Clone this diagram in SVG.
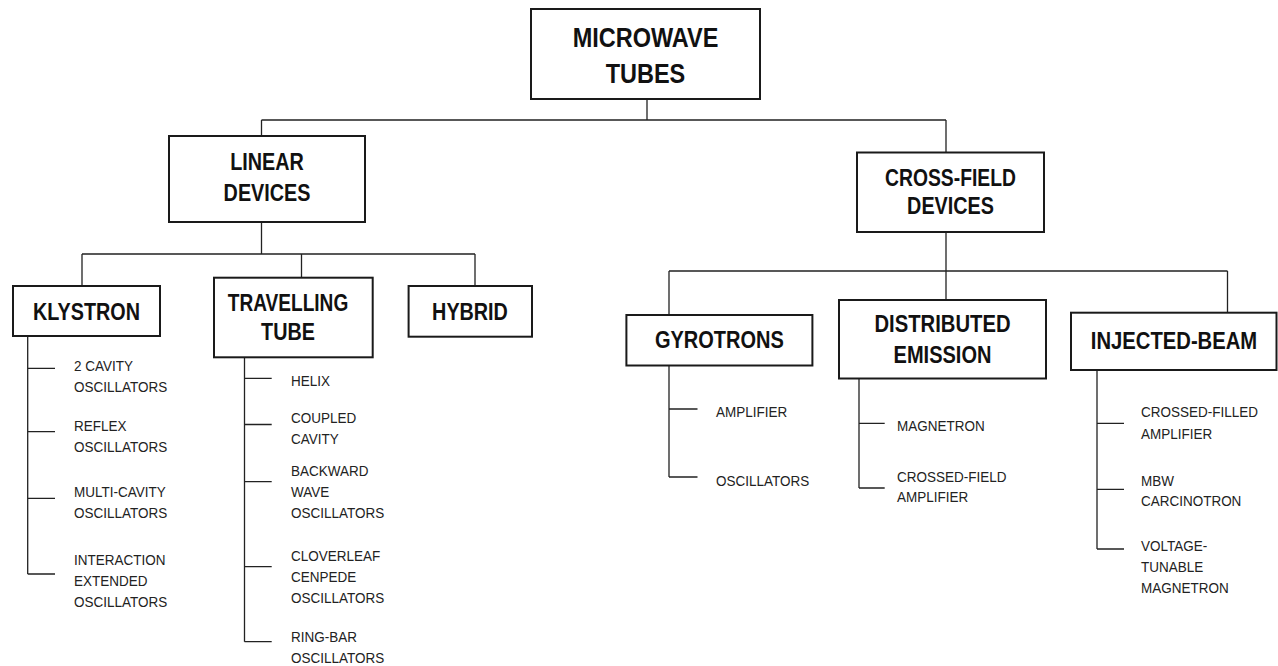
<svg xmlns="http://www.w3.org/2000/svg" width="1278" height="666" viewBox="0 0 1278 666">
<style>
.box{fill:#fff;stroke:#1a1a1a;stroke-width:2}
.ln{fill:none;stroke:#222;stroke-width:1.3}
.h{font-family:"Liberation Sans",Arial,sans-serif;font-weight:bold;font-size:23px;fill:#111;text-anchor:middle}
.h1{font-size:27px}
.s{font-family:"Liberation Sans",Arial,sans-serif;font-size:15px;fill:#222}
</style>
<rect width="1278" height="666" fill="#fff"/>
<g id="connectors">
<path class="ln" d="M647 99V120M261.5 120H946M261.5 120V136M946 120V152.5"/>
<path class="ln" d="M261.5 222V254M82 254H475M82 254V286M301.5 254V277.7M475 254V286"/>
<path class="ln" d="M946 232V300M669 271H1227.5M669 271V315M1227.5 271V312.7"/>
<path class="ln" d="M27.7 336V574M27.7 368.3H55M27.7 431.7H55M27.7 498.3H55M27.7 574H55"/>
<path class="ln" d="M244.5 357.3V641.7M244.5 378.3H271.7M244.5 424.5H271.7M244.5 481.7H271.7M244.5 566.7H271.7M244.5 641.7H271.7"/>
<path class="ln" d="M669 365.5V477M669 409H697.5M669 477H697.5"/>
<path class="ln" d="M859 378.5V488M859 423.3H884.7M859 488H884.7"/>
<path class="ln" d="M1097 370V549M1097 423.3H1124M1097 489.3H1124M1097 549H1124"/>
</g>
<g id="microwave-tubes">
<rect class="box" x="531" y="9" width="229" height="90"/>
<text class="h h1" transform="translate(645.5 47) scale(0.87 1)">MICROWAVE</text>
<text class="h h1" transform="translate(645.5 83) scale(0.87 1)">TUBES</text>
</g>
<g id="linear-devices">
<rect class="box" x="169" y="136" width="196" height="86"/>
<text class="h" transform="translate(267 170) scale(0.86 1)">LINEAR</text>
<text class="h" transform="translate(267 201) scale(0.86 1)">DEVICES</text>
</g>
<g id="cross-field-devices">
<rect class="box" x="857" y="152.5" width="187" height="79.5"/>
<text class="h" transform="translate(950.5 186) scale(0.84 1)">CROSS-FIELD</text>
<text class="h" transform="translate(950.5 214) scale(0.86 1)">DEVICES</text>
</g>
<g id="klystron">
<rect class="box" x="13" y="286" width="147" height="50"/>
<text class="h" transform="translate(86.5 320) scale(0.86 1)">KLYSTRON</text>
<text class="s" transform="translate(74 371) scale(0.9 1)">2 CAVITY</text>
<text class="s" transform="translate(74 392) scale(0.9 1)">OSCILLATORS</text>
<text class="s" transform="translate(74 431) scale(0.9 1)">REFLEX</text>
<text class="s" transform="translate(74 451.5) scale(0.9 1)">OSCILLATORS</text>
<text class="s" transform="translate(74 497) scale(0.9 1)">MULTI-CAVITY</text>
<text class="s" transform="translate(74 518) scale(0.9 1)">OSCILLATORS</text>
<text class="s" transform="translate(74 564.5) scale(0.9 1)">INTERACTION</text>
<text class="s" transform="translate(74 585.5) scale(0.9 1)">EXTENDED</text>
<text class="s" transform="translate(74 607) scale(0.9 1)">OSCILLATORS</text>
</g>
<g id="travelling-tube">
<rect class="box" x="214" y="277.7" width="158.7" height="79.6"/>
<text class="h" transform="translate(288 310.7) scale(0.83 1)">TRAVELLING</text>
<text class="h" transform="translate(288 340) scale(0.86 1)">TUBE</text>
<text class="s" transform="translate(291 385.5) scale(0.9 1)">HELIX</text>
<text class="s" transform="translate(291 423) scale(0.9 1)">COUPLED</text>
<text class="s" transform="translate(291 443.5) scale(0.9 1)">CAVITY</text>
<text class="s" transform="translate(291 475.5) scale(0.9 1)">BACKWARD</text>
<text class="s" transform="translate(291 496.5) scale(0.9 1)">WAVE</text>
<text class="s" transform="translate(291 518) scale(0.9 1)">OSCILLATORS</text>
<text class="s" transform="translate(291 560.5) scale(0.9 1)">CLOVERLEAF</text>
<text class="s" transform="translate(291 581.5) scale(0.9 1)">CENPEDE</text>
<text class="s" transform="translate(291 603) scale(0.9 1)">OSCILLATORS</text>
<text class="s" transform="translate(291 642) scale(0.9 1)">RING-BAR</text>
<text class="s" transform="translate(291 662.5) scale(0.9 1)">OSCILLATORS</text>
</g>
<g id="hybrid">
<rect class="box" x="408.6" y="286" width="123.4" height="50.7"/>
<text class="h" transform="translate(470 320) scale(0.86 1)">HYBRID</text>
</g>
<g id="gyrotrons">
<rect class="box" x="626.4" y="315" width="186" height="50.5"/>
<text class="h" transform="translate(719.4 348) scale(0.87 1)">GYROTRONS</text>
<text class="s" transform="translate(716 417) scale(0.9 1)">AMPLIFIER</text>
<text class="s" transform="translate(716 485.5) scale(0.9 1)">OSCILLATORS</text>
</g>
<g id="distributed-emission">
<rect class="box" x="839" y="300" width="207" height="78.5"/>
<text class="h" transform="translate(942.5 332.3) scale(0.88 1)">DISTRIBUTED</text>
<text class="h" transform="translate(942.5 363.3) scale(0.87 1)">EMISSION</text>
<text class="s" transform="translate(897 430.5) scale(0.9 1)">MAGNETRON</text>
<text class="s" transform="translate(897 481.5) scale(0.9 1)">CROSSED-FIELD</text>
<text class="s" transform="translate(897 502) scale(0.9 1)">AMPLIFIER</text>
</g>
<g id="injected-beam">
<rect class="box" x="1071" y="312.7" width="205.5" height="57.3"/>
<text class="h" transform="translate(1174 349) scale(0.88 1)">INJECTED-BEAM</text>
<text class="s" transform="translate(1141 417) scale(0.9 1)">CROSSED-FILLED</text>
<text class="s" transform="translate(1141 438.5) scale(0.9 1)">AMPLIFIER</text>
<text class="s" transform="translate(1141 485.5) scale(0.9 1)">MBW</text>
<text class="s" transform="translate(1141 506) scale(0.9 1)">CARCINOTRON</text>
<text class="s" transform="translate(1141 550.5) scale(0.9 1)">VOLTAGE-</text>
<text class="s" transform="translate(1141 571.5) scale(0.9 1)">TUNABLE</text>
<text class="s" transform="translate(1141 593) scale(0.9 1)">MAGNETRON</text>
</g>
</svg>
